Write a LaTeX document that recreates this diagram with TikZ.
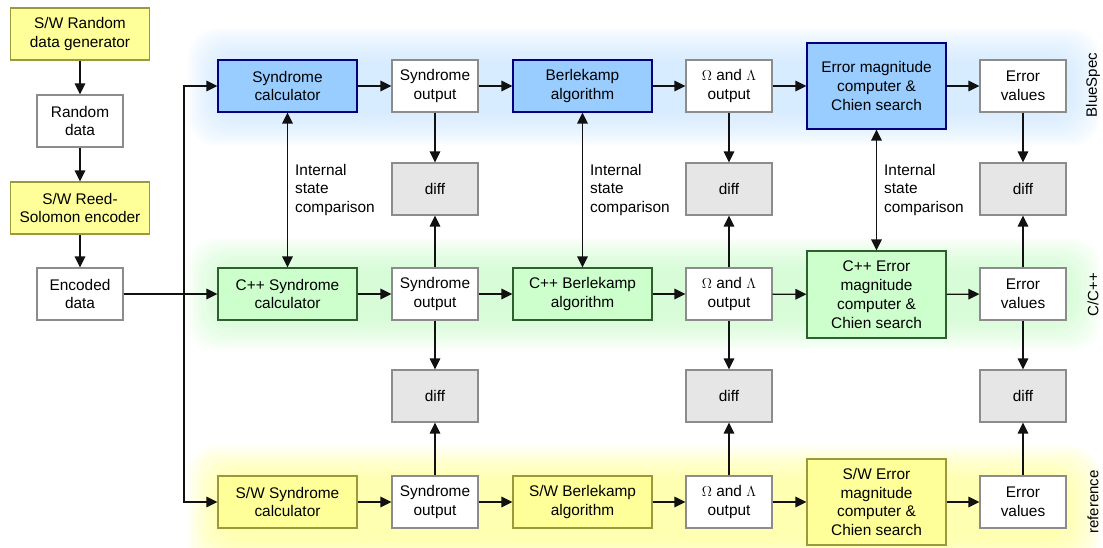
\documentclass[tikz,border=0pt]{standalone}
\usepackage{fontspec}
\setmainfont{Liberation Sans}
\usetikzlibrary{arrows.meta}

\definecolor{bsfill}{HTML}{99CCFF}
\definecolor{bsline}{HTML}{00007F}
\definecolor{ccfill}{HTML}{CCFFCC}
\definecolor{ccline}{HTML}{2F5F2F}
\definecolor{swfill}{HTML}{FFFF99}
\definecolor{swline}{HTML}{9A9A3C}
\definecolor{grayline}{HTML}{8C8C8C}
\definecolor{difffill}{HTML}{E6E6E6}
\definecolor{linecol}{HTML}{111111}
\definecolor{bsglow}{HTML}{C4E2FF}
\definecolor{ccglow}{HTML}{C4FAC4}
\definecolor{swglow}{HTML}{FFFF8C}

\begin{document}
\begin{tikzpicture}[x=1pt,y=-1pt,
  font=\fontsize{15.4}{18.8}\selectfont,
  box/.style={draw, line width=1.1pt, align=center, inner sep=0pt, minimum height=52pt},
  widebox/.style={box, minimum width=139pt},
  narrowbox/.style={box, minimum width=86pt},
  bsbox/.style={widebox, fill=bsfill, draw=bsline},
  ccbox/.style={widebox, fill=ccfill, draw=ccline},
  swbox/.style={widebox, fill=swfill, draw=swline},
  outbox/.style={narrowbox, fill=white, draw=grayline},
  diffbox/.style={narrowbox, fill=difffill, draw=grayline},
  tall/.style={minimum height=86pt},
  note/.style={align=left, anchor=west, inner sep=0pt},
  side/.style={rotate=90, font=\fontsize{15}{17}\selectfont},
  tip/.tip={Triangle[length=11pt,width=10.5pt]},
  arr/.style={-tip, line width=1.3pt, draw=linecol},
  dblarr/.style={tip-tip, line width=1.3pt, draw=linecol},
]
\useasboundingbox (0,0) rectangle (1103,548);
\begin{scope}
\clip (0,0) rectangle (1103,548);
% soft background bands for the three implementations
\foreach \k in {0,...,13} {
  \fill[bsglow, opacity=0.075, rounded corners=28pt]
    ({188+\k*2.6},{28+\k*2.6}) rectangle ({1100-\k*2.6},{146-\k*2.6});
  \fill[ccglow, opacity=0.08, rounded corners=28pt]
    ({188+\k*2.6},{238+\k*2.6}) rectangle ({1100-\k*2.6},{350-\k*2.6});
  \fill[swglow, opacity=0.08, rounded corners=28pt]
    ({188+\k*2.6},{446+\k*2.6}) rectangle ({1100-\k*2.6},{572-\k*2.6});
}
\end{scope}

% input chain
\node[swbox] (gen) at (80,34) {S/W Random\\data generator};
\node[outbox] (rnd) at (80,121) {Random\\data};
\node[swbox] (enc) at (80,208) {S/W Reed-\\Solomon encoder};
\node[outbox] (edata) at (80,294) {Encoded\\data};

% BlueSpec row
\node[bsbox] (bsyn) at (287.5,86) {Syndrome\\calculator};
\node[outbox] (bso) at (435,86) {Syndrome\\output};
\node[bsbox] (bber) at (582.5,86) {Berlekamp\\algorithm};
\node[outbox] (bol) at (729,86) {$\Omega$ and $\Lambda$\\output};
\node[bsbox, tall] (berr) at (876.5,86) {Error magnitude\\computer \&\\Chien search};
\node[outbox] (bev) at (1023,86) {Error\\values};

% first diff row
\node[diffbox] (d1) at (435,189) {diff};
\node[diffbox] (d2) at (729,189) {diff};
\node[diffbox] (d3) at (1023,189) {diff};

% C/C++ row
\node[ccbox] (csyn) at (287.5,294) {C++ Syndrome\\calculator};
\node[outbox] (cso) at (435,294) {Syndrome\\output};
\node[ccbox] (cber) at (582.5,294) {C++ Berlekamp\\algorithm};
\node[outbox] (col) at (729,294) {$\Omega$ and $\Lambda$\\output};
\node[ccbox, tall, minimum height=87pt] (cerr) at (876.5,294.5) {C++ Error\\magnitude\\computer \&\\Chien search};
\node[outbox] (cev) at (1023,294) {Error\\values};

% second diff row
\node[diffbox] (e1) at (435,396) {diff};
\node[diffbox] (e2) at (729,396) {diff};
\node[diffbox] (e3) at (1023,396) {diff};

% reference row
\node[swbox] (ssyn) at (287.5,502) {S/W Syndrome\\calculator};
\node[outbox] (sso) at (435,502) {Syndrome\\output};
\node[swbox] (sber) at (582.5,502) {S/W Berlekamp\\algorithm};
\node[outbox] (sol) at (729,502) {$\Omega$ and $\Lambda$\\output};
\node[swbox, tall] (serr) at (876.5,502) {S/W Error\\magnitude\\computer \&\\Chien search};
\node[outbox] (sev) at (1023,502) {Error\\values};

% internal state comparison labels
\node[note] (n1) at (295,190) {Internal\\state\\comparison};
\node[note] (n2) at (590,190) {Internal\\state\\comparison};
\node[note] (n3) at (884,190) {Internal\\state\\comparison};

% side labels
\node[side] (lbs) at (1093,85) {BlueSpec};
\node[side] (lcc) at (1093,294.5) {C/C++};
\node[side] (lsw) at (1093,502) {reference};

% input chain connectors
\draw[arr] (gen) -- (rnd);
\draw[arr] (rnd) -- (enc);
\draw[arr] (enc) -- (edata);
\draw[arr] (edata) -- (csyn);
\coordinate (split) at (184,294);
\draw[arr] (split) |- (bsyn.west);
\draw[arr] (split) |- (ssyn.west);

% row data flow
\foreach \r in {b,c,s} {
  \draw[arr] (\r syn) -- (\r so);
  \draw[arr] (\r so) -- (\r ber);
  \draw[arr] (\r ber) -- (\r ol);
  \draw[arr] (\r ol) -- (\r err);
  \draw[arr] (\r err) -- (\r ev);
}

% outputs into the comparisons
\draw[arr] (bso) -- (d1);
\draw[arr] (bol) -- (d2);
\draw[arr] (bev) -- (d3);
\draw[arr] (cso) -- (d1);
\draw[arr] (col) -- (d2);
\draw[arr] (cev) -- (d3);
\draw[arr] (cso) -- (e1);
\draw[arr] (col) -- (e2);
\draw[arr] (cev) -- (e3);
\draw[arr] (sso) -- (e1);
\draw[arr] (sol) -- (e2);
\draw[arr] (sev) -- (e3);

% internal state links
\draw[dblarr] (bsyn) -- (csyn);
\draw[dblarr] (bber) -- (cber);
\draw[dblarr] (berr) -- (cerr);
\end{tikzpicture}
\end{document}
